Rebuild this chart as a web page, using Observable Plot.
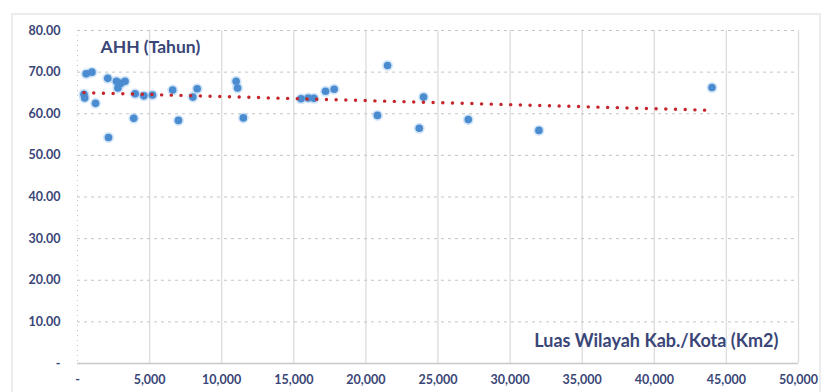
<!DOCTYPE html>
<html>
<head>
<meta charset="utf-8">
<script src="https://cdn.jsdelivr.net/npm/d3@7"></script>
<script src="https://cdn.jsdelivr.net/npm/@observablehq/plot@0.6"></script>
<style>
  html, body { margin: 0; padding: 0; background: #fff; }
  #wrap { position: relative; width: 829px; height: 392px; overflow: hidden; }
  #border { position: absolute; left: 11px; top: 13px; width: 810px; height: 400px; border: 2px solid #ececec; box-sizing: border-box; }
  #chart { position: absolute; left: 0; top: 0; }
</style>
</head>
<body>
<div id="wrap"><div id="border"></div><div id="chart"></div></div>
<script>
// Luas wilayah (Km2) per Kab./Kota
const luasWilayah = [600, 1000, 450, 500, 1250, 2150, 2100, 2700, 3000, 3300, 2800, 3900, 4000, 4600, 5200, 6600, 7000, 8000, 8300, 11000, 11100, 11500, 15500, 16000, 16400, 17200, 17800, 20800, 21500, 23700, 24000, 27100, 32000, 44000];
// Angka Harapan Hidup (Tahun)
const ahh = [69.6, 70.0, 64.7, 63.8, 62.5, 54.3, 68.5, 67.8, 67.3, 67.8, 66.2, 58.9, 64.8, 64.3, 64.5, 65.7, 58.4, 64.0, 66.0, 67.8, 66.2, 59.0, 63.6, 63.8, 63.7, 65.4, 65.9, 59.6, 71.6, 56.5, 64.0, 58.6, 56.0, 66.3];
const xTicks = [0, 5000, 10000, 15000, 20000, 25000, 30000, 35000, 40000, 45000, 50000];
const yTicks = [0, 10, 20, 30, 40, 50, 60, 70, 80];
const yTitle = "AHH (Tahun)";
const xTitle = "Luas Wilayah Kab./Kota (Km2)";

const data = luasWilayah.map((x, i) => ({x, y: ahh[i]}));
const textColor = "#3a4677";
const font = "Lato, 'Open Sans', sans-serif";
const fmtX = d => d === 0 ? "-" : d3.format(",")(d);
const fmtY = d => d === 0 ? "-" : d.toFixed(2);

const chart = Plot.plot({
  width: 829,
  height: 392,
  marginLeft: 77,
  marginRight: 31,
  marginTop: 30,
  marginBottom: 29,
  style: {fontFamily: font, fontSize: "12.5px", fontWeight: "bold", color: textColor, background: "transparent"},
  x: {domain: [0, 50000], label: null},
  y: {domain: [0, 80], label: null},
  marks: [
    Plot.gridX(xTicks.slice(1), {stroke: "#dcdcdc", strokeOpacity: 1, strokeWidth: 1.3}),
    Plot.gridY(yTicks.slice(1), {stroke: "#c4c4c4", strokeOpacity: 1, strokeDasharray: "3 4"}),
    Plot.ruleX([0], {stroke: "#c8c8c8", strokeDasharray: "1 4"}),
    Plot.ruleY([0], {stroke: "#c8c8c8", strokeWidth: 1.5}),
    Plot.axisX({ticks: xTicks, tickFormat: fmtX, tickSize: 0, tickPadding: 12, fill: textColor, label: null}),
    Plot.axisY({ticks: yTicks, tickFormat: fmtY, tickSize: 0, tickPadding: 17, fill: textColor, label: null}),
    Plot.dot(data, {x: "x", y: "y", r: 5.5, fill: "#9cc6ef", fillOpacity: 0.45}),
    Plot.dot(data, {x: "x", y: "y", r: 3.8, fill: "#4a8ccf"}),
    Plot.linearRegressionY(data, {x: "x", y: "y", ci: 0, stroke: "#c4262b", strokeWidth: 3.4, strokeDasharray: "0.1 9.6", strokeLinecap: "round"}),
    Plot.text([yTitle], {frameAnchor: "top-left", dx: 23, dy: 10, text: d => d, fontSize: 17.5, fontWeight: "bold", fill: textColor, textAnchor: "start"}),
    Plot.text([xTitle], {frameAnchor: "bottom-right", dx: -20, dy: -22, text: d => d, fontSize: 18, fontWeight: "bold", fill: textColor, textAnchor: "end", lineAnchor: "middle"})
  ]
});
document.getElementById("chart").appendChild(chart);
</script>
</body>
</html>
